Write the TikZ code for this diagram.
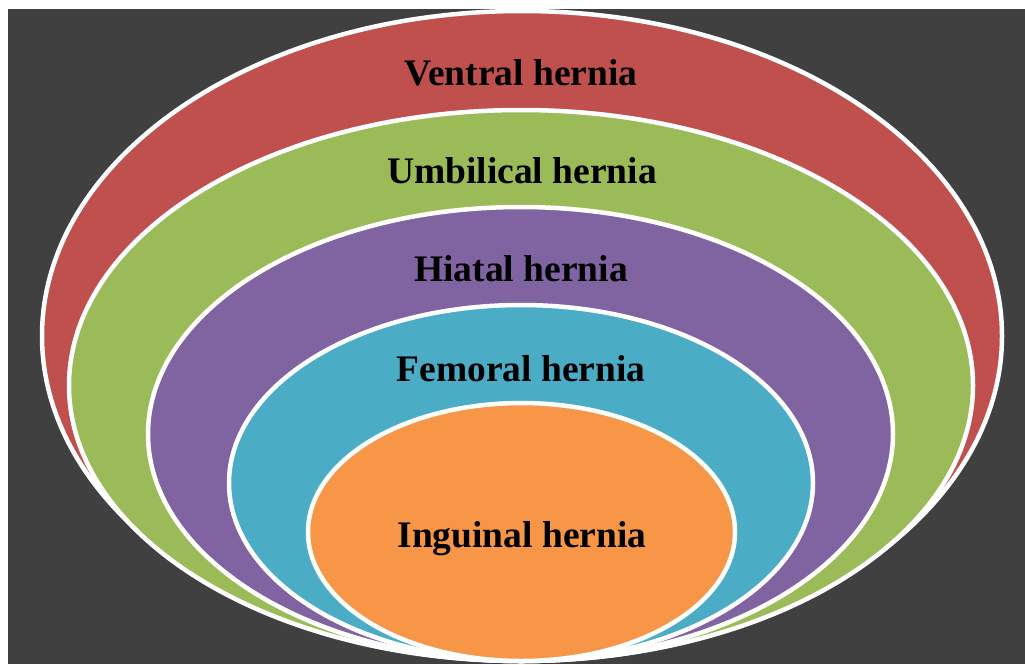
\documentclass[tikz,border=0pt]{standalone}
\usepackage{fontspec}
\setmainfont{Liberation Serif}
\definecolor{bgdark}{HTML}{404040}
\definecolor{cred}{HTML}{C0504D}
\definecolor{cgreen}{HTML}{9BBB59}
\definecolor{cpurple}{HTML}{8064A2}
\definecolor{cblue}{HTML}{4BACC6}
\definecolor{corange}{HTML}{F79646}
\tikzset{
  ring/.style={draw=white, line width=4.5pt},
  lbl/.style={anchor=base, font=\fontsize{37.5}{40}\selectfont\bfseries, text=black, inner sep=0pt}
}
\begin{document}
\begin{tikzpicture}[x=1pt,y=-1pt]
\useasboundingbox (0,0) rectangle (1025,664);
\fill[bgdark] (8,9) rectangle (1025,664);
\filldraw[ring, fill=cred] (522,336) ellipse [x radius=480, y radius=325];
\filldraw[ring, fill=cgreen] (521,385.5) ellipse [x radius=452, y radius=275.5];
\filldraw[ring, fill=cpurple] (520.5,434) ellipse [x radius=372.5, y radius=227];
\filldraw[ring, fill=cblue] (521,483) ellipse [x radius=292, y radius=178];
\filldraw[ring, fill=corange] (521.5,532) ellipse [x radius=213.5, y radius=129];
\node[lbl] (ventral) at (521,85) {Ventral hernia};
\node[lbl] (umbilical) at (522,183) {Umbilical hernia};
\node[lbl] (hiatal) at (521,281) {Hiatal hernia};
\node[lbl] (femoral) at (521,381) {Femoral hernia};
\node[lbl] (inguinal) at (522,547) {Inguinal hernia};
\end{tikzpicture}
\end{document}
